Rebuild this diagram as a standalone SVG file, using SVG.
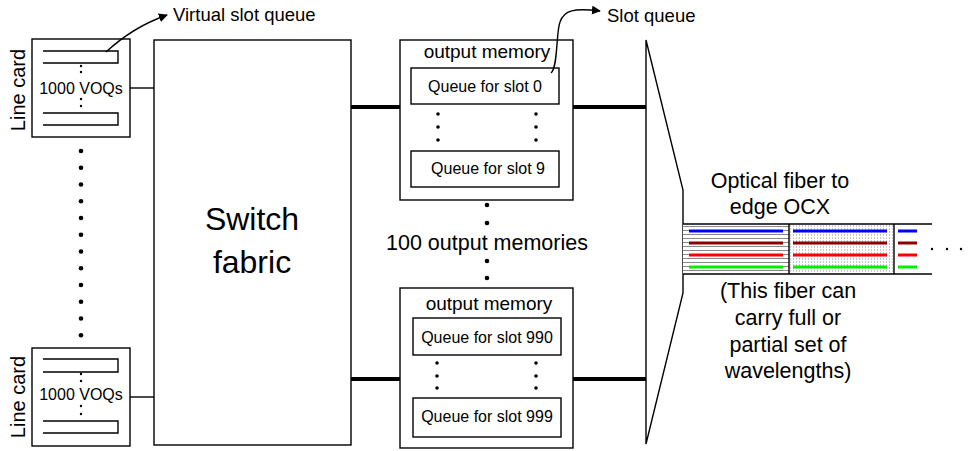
<svg xmlns="http://www.w3.org/2000/svg" width="972" height="451" viewBox="0 0 972 451">
  <style>
    text { font-family: "Liberation Sans", Arial, sans-serif; fill: #000; }
    .box { fill: #fff; stroke: #000; stroke-width: 1.4; }
    .bar { fill: none; stroke: #000; stroke-width: 1.4; }
    .thin { fill: none; stroke: #000; stroke-width: 1.4; }
    .thick { fill: none; stroke: #000; stroke-width: 4; }
    .mid { text-anchor: middle; }
    .wl { stroke-width: 3; stroke-linecap: butt; }
  </style>
  <defs>
    <marker id="arrow" viewBox="0 0 10 10" refX="9" refY="5" markerWidth="9" markerHeight="9" orient="auto" markerUnits="userSpaceOnUse">
      <path d="M0,0 L10,5 L0,10 z" fill="#000"/>
    </marker>
    <pattern id="hlines" width="4" height="4" patternUnits="userSpaceOnUse">
      <rect width="4" height="4" fill="#fff"/>
      <rect y="2" width="4" height="1" fill="#8a8a8a"/>
    </pattern>
    <pattern id="stipple" width="3" height="3" patternUnits="userSpaceOnUse">
      <rect width="3" height="3" fill="#fff"/>
      <rect x="1" y="0" width="1" height="2" fill="#c8c8c8"/>
    </pattern>
  </defs>

  <!-- line card (top) -->
  <g id="linecard-top">
    <rect class="box" x="32" y="39" width="98" height="98"/>
    <path class="bar" d="M43,51 H118 V63 H43"/>
    <path class="bar" d="M43,113 H118 V125 H43"/>
    <circle cx="81" cy="66" r="1.2"/>
    <circle cx="81" cy="72" r="1.2"/>
    <circle cx="81" cy="99" r="1.2"/>
    <circle cx="81" cy="106" r="1.2"/>
    <text class="mid" x="81" y="94" font-size="16">1000 VOQs</text>
    <text class="mid" font-size="20" transform="translate(25,90) rotate(-90)">Line card</text>
  </g>

  <!-- line card (bottom) -->
  <g id="linecard-bottom">
    <rect class="box" x="32" y="348" width="98" height="98"/>
    <path class="bar" d="M43,359 H118 V372 H43"/>
    <path class="bar" d="M43,421 H118 V433 H43"/>
    <circle cx="81" cy="374" r="1.2"/>
    <circle cx="81" cy="381" r="1.2"/>
    <circle cx="81" cy="406" r="1.2"/>
    <circle cx="81" cy="414" r="1.2"/>
    <text class="mid" x="81" y="400" font-size="16">1000 VOQs</text>
    <text class="mid" font-size="20" transform="translate(25,397) rotate(-90)">Line card</text>
  </g>

  <!-- line cards in between -->
  <g id="linecard-dots" fill="#000">
    <circle cx="81" cy="151" r="2.3"/>
    <circle cx="81" cy="167.7" r="2.3"/>
    <circle cx="81" cy="184.5" r="2.3"/>
    <circle cx="81" cy="201.2" r="2.3"/>
    <circle cx="81" cy="218" r="2.3"/>
    <circle cx="81" cy="234.7" r="2.3"/>
    <circle cx="81" cy="251.5" r="2.3"/>
    <circle cx="81" cy="268.2" r="2.3"/>
    <circle cx="81" cy="285" r="2.3"/>
    <circle cx="81" cy="301.7" r="2.3"/>
    <circle cx="81" cy="318.5" r="2.3"/>
    <circle cx="81" cy="335.2" r="2.3"/>
  </g>

  <!-- switch fabric -->
  <g id="switch-fabric">
    <rect class="box" x="154" y="40" width="197" height="405"/>
    <text class="mid" x="252" y="230" font-size="32">Switch</text>
    <text class="mid" x="252" y="273" font-size="32">fabric</text>
  </g>

  <!-- output memory (top) -->
  <g id="outmem-top">
    <rect class="box" x="400" y="40" width="173" height="160"/>
    <text class="mid" x="487" y="58" font-size="19">output memory</text>
    <rect class="box" x="411" y="68" width="148" height="36"/>
    <text class="mid" x="485" y="92" font-size="16">Queue for slot 0</text>
    <circle cx="438" cy="114" r="1.8"/>
    <circle cx="438" cy="127" r="1.8"/>
    <circle cx="438" cy="140" r="1.8"/>
    <circle cx="536" cy="114" r="1.8"/>
    <circle cx="536" cy="127" r="1.8"/>
    <circle cx="536" cy="140" r="1.8"/>
    <rect class="box" x="411" y="151" width="148" height="36"/>
    <text class="mid" x="488" y="174" font-size="16">Queue for slot 9</text>
  </g>

  <!-- output memory (bottom) -->
  <g id="outmem-bottom">
    <rect class="box" x="400" y="288" width="173" height="160"/>
    <text class="mid" x="489" y="310" font-size="19">output memory</text>
    <rect class="box" x="413" y="318" width="148" height="37"/>
    <text class="mid" x="487" y="343" font-size="16">Queue for slot 990</text>
    <circle cx="437" cy="363" r="1.8"/>
    <circle cx="437" cy="376" r="1.8"/>
    <circle cx="437" cy="388" r="1.8"/>
    <circle cx="536" cy="363" r="1.8"/>
    <circle cx="536" cy="376" r="1.8"/>
    <circle cx="536" cy="388" r="1.8"/>
    <rect class="box" x="413" y="398" width="148" height="39"/>
    <text class="mid" x="487" y="422" font-size="16">Queue for slot 999</text>
  </g>

  <!-- output memories in between -->
  <g id="outmem-dots">
    <circle cx="487" cy="205" r="2.3"/>
    <circle cx="487" cy="223" r="2.3"/>
    <text class="mid" x="487" y="250" font-size="21.5">100 output memories</text>
    <circle cx="487" cy="261" r="2.3"/>
    <circle cx="487" cy="278" r="2.3"/>
  </g>

  <!-- multiplexer onto the fiber -->
  <g id="mux">
    <path class="thin" d="M646,40 L683,190 V293 L646,444 Z" fill="#fff"/>
  </g>

  <!-- fiber with wavelength sets -->
  <g id="fiber">
    <rect x="683" y="224" width="106" height="50" fill="url(#hlines)"/>
    <rect x="789" y="224" width="105" height="50" fill="url(#stipple)"/>
    <path class="thin" d="M683,224 H932 M683,274 H932 M789,224 V274 M894,224 V274"/>
    <g class="wl">
      <line x1="689" y1="231" x2="783" y2="231" stroke="#0000ff"/>
      <line x1="689" y1="243" x2="783" y2="243" stroke="#8b0000"/>
      <line x1="689" y1="255" x2="783" y2="255" stroke="#ff0000"/>
      <line x1="689" y1="267" x2="783" y2="267" stroke="#00ee00"/>
      <line x1="793" y1="231" x2="887" y2="231" stroke="#0000ff"/>
      <line x1="793" y1="243" x2="887" y2="243" stroke="#8b0000"/>
      <line x1="793" y1="255" x2="887" y2="255" stroke="#ff0000"/>
      <line x1="793" y1="267" x2="887" y2="267" stroke="#00ee00"/>
      <line x1="898" y1="231" x2="917" y2="231" stroke="#0000ff"/>
      <line x1="898" y1="243" x2="917" y2="243" stroke="#8b0000"/>
      <line x1="898" y1="255" x2="917" y2="255" stroke="#ff0000"/>
      <line x1="898" y1="267" x2="917" y2="267" stroke="#00ee00"/>
    </g>
    <circle cx="932" cy="249" r="1.2"/>
    <circle cx="947" cy="249" r="1.2"/>
    <circle cx="961" cy="249" r="1.2"/>
    <text class="mid" x="780" y="188" font-size="21.5">Optical fiber to</text>
    <text class="mid" x="780" y="214" font-size="21.5">edge OCX</text>
    <text class="mid" x="788" y="298" font-size="21.5">(This fiber can</text>
    <text class="mid" x="788" y="325" font-size="21.5">carry full or</text>
    <text class="mid" x="788" y="352" font-size="21.5">partial set of</text>
    <text class="mid" x="788" y="378" font-size="21.5">wavelengths)</text>
  </g>

  <!-- callout labels -->
  <g id="label-virtual-slot-queue">
    <text x="173" y="21" font-size="18.5">Virtual slot queue</text>
  </g>
  <g id="label-slot-queue">
    <text x="607" y="22" font-size="18.5">Slot queue</text>
  </g>

  <!-- connectors -->
  <g id="connectors">
    <line class="thin" x1="130" y1="88" x2="154" y2="88"/>
    <line class="thin" x1="130" y1="397" x2="154" y2="397"/>
    <line class="thick" x1="351" y1="107" x2="400" y2="107"/>
    <line class="thick" x1="573" y1="107" x2="646" y2="107"/>
    <line class="thick" x1="351" y1="379" x2="400" y2="379"/>
    <line class="thick" x1="573" y1="379" x2="646" y2="379"/>
    <path class="thin" d="M106,52 Q133,27 167,15" marker-end="url(#arrow)" stroke-width="1.2"/>
    <path class="thin" d="M551,73 C558,68 556,32 560,22 C564,10 574,8 600,11" marker-end="url(#arrow)" stroke-width="1.2"/>
  </g>
</svg>
